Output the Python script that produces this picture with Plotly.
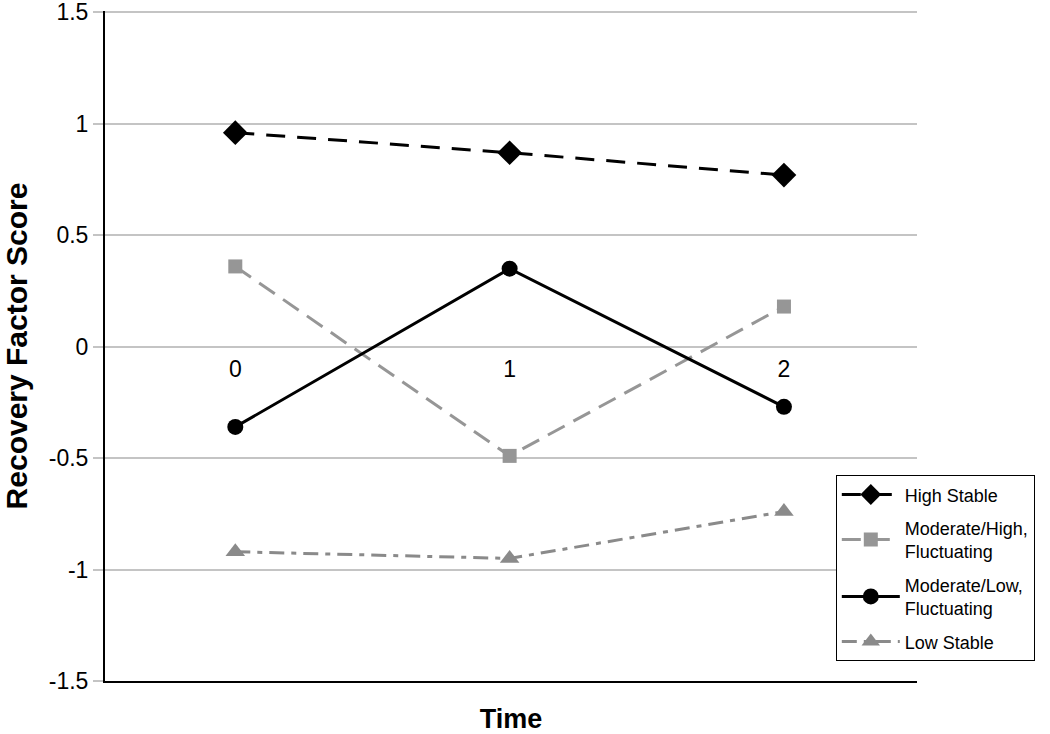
import plotly.graph_objects as go

# data
times = [0, 1, 2]
time_labels = ["0", "1", "2"]
high_stable = [0.96, 0.87, 0.77]
mod_high_fluct = [0.36, -0.49, 0.18]
mod_low_fluct = [-0.36, 0.35, -0.27]
low_stable = [-0.92, -0.95, -0.74]

y_ticks = [-1.5, -1.0, -0.5, 0.0, 0.5, 1.0, 1.5]
y_ticktext = ["-1.5", "-1", "-0.5", "0", "0.5", "1", "1.5"]

FONT = "Liberation Sans, Arial, sans-serif"
GRAY = "#969696"

series = [
    ("High Stable", high_stable, "black", "19px,12px", "diamond", 19),
    ("Moderate/High,<br>Fluctuating", mod_high_fluct, GRAY, "19px,10px", "square", 14),
    ("Moderate/Low,<br>Fluctuating", mod_low_fluct, "black", "solid", "circle", 16),
    ("Low Stable", low_stable, "#8a8a8a", "15px,7px,5px,7px", "triangle-up", 17),
]

fig = go.Figure()
for i, (name, vals, color, dash, symbol, size) in enumerate(series):
    fig.add_trace(go.Scatter(
        x=times, y=vals, name=name, mode="lines+markers", legendgroup=f"g{i}",
        line=dict(color=color, width=3, dash=dash),
        marker=dict(symbol=symbol, size=size, color=color),
    ))

xrange = [-0.475, 2.485]
fig.update_layout(
    width=1050, height=734,
    margin=dict(l=105, r=133, t=11, b=53),
    plot_bgcolor="white", paper_bgcolor="white",
    font=dict(family=FONT, color="black"),
    showlegend=True,
    legend=dict(
        x=0.900, y=0.307, xanchor="left", yanchor="top",
        bordercolor="black", borderwidth=1, bgcolor="white",
        font=dict(size=18, family=FONT), tracegroupgap=7,
        itemwidth=58,
    ),
    # category labels sit just under the zero line
    xaxis=dict(
        range=xrange, anchor="free", position=0.5,
        tickvals=times, ticktext=time_labels, ticks="",
        showline=False, showgrid=False, zeroline=False,
        tickfont=dict(size=23), automargin=False, ticklabelstandoff=7,
    ),
    # bottom frame line carrying the axis title
    xaxis2=dict(
        range=xrange, overlaying="x", anchor="y", side="bottom",
        showticklabels=False, ticks="", showgrid=False, zeroline=False,
        showline=True, linecolor="black", linewidth=2, automargin=False,
        title=dict(text="<b>Time</b>", font=dict(size=27), standoff=36),
    ),
    yaxis=dict(
        # top slightly above 1.5 so plotly keeps the 1.5 gridline
        range=[-1.5, 1.506], tickvals=y_ticks, ticktext=y_ticktext,
        ticks="outside", ticklen=10, tickcolor="#c4c4c4", tickwidth=2,
        showgrid=True, gridcolor="#c4c4c4", gridwidth=2,
        zeroline=False, showline=True, linecolor="black", linewidth=2,
        tickfont=dict(size=23), automargin=False, ticklabeloverflow="allow",
        title=dict(text="<b>Recovery Factor Score</b>", font=dict(size=30), standoff=35),
    ),
)
# dummy trace to make xaxis2 render
fig.add_trace(go.Scatter(x=[None], y=[None], xaxis="x2", showlegend=False, hoverinfo="skip"))

# drop the default 8px body margin so the figure fills the window
fig.write_html("out.html", config={"displayModeBar": False},
               post_script="document.body.style.margin='0';")
